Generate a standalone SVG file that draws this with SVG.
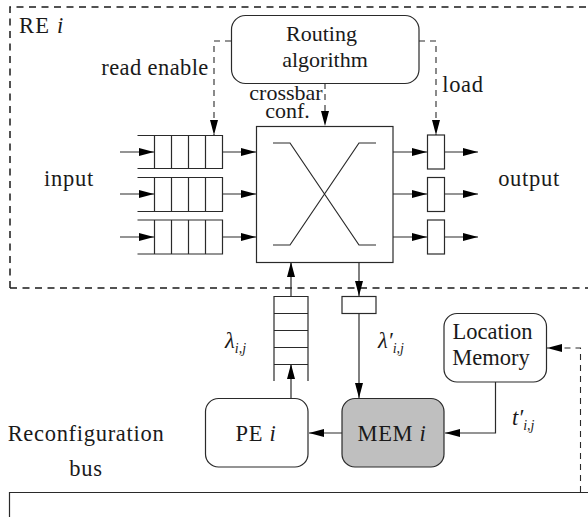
<svg xmlns="http://www.w3.org/2000/svg" width="588" height="517" viewBox="0 0 588 517">
<style>
.l{fill:none;stroke:#2a2a2a;stroke-width:1.2}
.b{fill:#fff;stroke:#2a2a2a;stroke-width:1.2}
.d{fill:none;stroke:#2a2a2a;stroke-width:1.1;stroke-dasharray:6 5}
.a{marker-end:url(#h)}
text{font-family:"Liberation Serif","Times New Roman",serif;font-size:22.500px;fill:#1a1a1a;text-anchor:middle}
.c{letter-spacing:.7px}
.t{font-size:22px}
.i{font-style:italic}
.s{font-size:14px;font-style:italic}
</style>
<defs>
<marker id="h" markerUnits="userSpaceOnUse" markerWidth="16" markerHeight="10" refX="15" refY="5" orient="auto"><path d="M0 1 L15 5 L0 9 Z" fill="#000"/></marker>
</defs>
<rect width="588" height="517" fill="#fff"/>
<path id="re-border" d="M10 288 V7 H588 M10 288 H588" fill="none" stroke="#1a1a1a" stroke-width="1.5" stroke-dasharray="7 5.5"/>
<text class="c" x="19" y="33" style="text-anchor:start;letter-spacing:1.2px">RE <tspan class="i">i</tspan></text>
<g id="connectors">
<path class="d a" d="M231 41 H214 V135"/>
<path class="d a" d="M419 41 H436 V135"/>
<path class="d a" d="M325 83 V126"/>
<path class="l a" d="M120 152 H154"/><path class="l a" d="M120 194 H154"/><path class="l a" d="M120 237 H154"/>
<path class="l a" d="M222 152 H256"/><path class="l a" d="M222 194 H256"/><path class="l a" d="M222 237 H256"/>
<path class="l a" d="M393 152 H427"/><path class="l a" d="M393 194 H427"/><path class="l a" d="M393 237 H427"/>
<path class="l a" d="M444 152 H478"/><path class="l a" d="M444 194 H478"/><path class="l a" d="M444 237 H478"/>
<path class="l a" d="M291 296 V262"/>
<path class="l a" d="M291 398 V364"/>
<path class="l a" d="M359 262 V296"/>
<path class="l a" d="M359 313 V398"/>
<path class="l a" d="M342 433 H309"/>
<path class="l a" d="M495.500 382 V433 H445"/>
<path class="d a" d="M580.500 492 V348 H547"/>
</g>
<g id="routing"><rect class="b" x="231.500" y="15.500" width="187.500" height="68" rx="14"/>
<text class="t" x="321.500" y="41">Routing</text><text class="t" x="325" y="67">algorithm</text></g>
<text x="155" y="75" style="letter-spacing:.4px">read enable</text>
<text class="c" x="463" y="92">load</text>
<text class="t" x="286" y="100">crossbar</text><text class="t" x="287.500" y="118">conf.</text>
<text class="c" x="69" y="186">input</text><text class="c" x="529" y="186">output</text>
<g id="queue-1"><path class="l" d="M137.500 135.500 H222.500 V168.500 H137.500 M154.500 135.500 V168.500 M171.500 135.500 V168.500 M188.500 135.500 V168.500 M205.500 135.500 V168.500"/></g>
<g id="queue-2"><path class="l" d="M137.500 177.500 H222.500 V211.500 H137.500 M154.500 177.500 V211.500 M171.500 177.500 V211.500 M188.500 177.500 V211.500 M205.500 177.500 V211.500"/></g>
<g id="queue-3"><path class="l" d="M137.500 220 H222.500 V254 H137.500 M154.500 220 V254 M171.500 220 V254 M188.500 220 V254 M205.500 220 V254"/></g>
<g id="crossbar"><rect class="l" x="256.500" y="126.500" width="136.500" height="136"/>
<path class="l" d="M273 143 H290 L359 245 H376 M376 143 H359 L290 245 H273"/></g>
<g id="out-1"><rect class="b" x="427.500" y="135" width="17" height="34"/></g>
<g id="out-2"><rect class="b" x="427.500" y="177.500" width="17" height="34"/></g>
<g id="out-3"><rect class="b" x="427.500" y="220" width="17" height="34"/></g>
<g id="pe-queue"><path class="l" d="M274 381 V296.500 H308 V381 M274 313.500 H308 M274 330.500 H308 M274 347.500 H308 M274 364.500 H308"/></g>
<g id="mem-register"><rect class="b" x="342" y="296.500" width="34" height="17"/></g>
<text class="i" x="225" y="348" style="text-anchor:start">λ<tspan class="s" dy="5">i,j</tspan></text>
<text class="i" x="378" y="348" style="text-anchor:start">λ′<tspan class="s" dy="5">i,j</tspan></text>
<text class="i" x="512" y="425" style="text-anchor:start">t′<tspan class="s" dy="5">i,j</tspan></text>
<g id="location-memory"><rect class="b" x="444" y="313.500" width="102.500" height="68.500" rx="13"/>
<text x="492.500" y="339">Location</text><text x="491" y="365">Memory</text></g>
<g id="pe"><rect class="l" x="205.500" y="398.500" width="102.500" height="68.500" rx="13"/>
<text class="c" x="256" y="441">PE <tspan class="i">i</tspan></text></g>
<g id="mem"><rect x="342" y="398.500" width="102" height="68.500" rx="13" fill="#bfbfbf" stroke="#2a2a2a" stroke-width="1.2"/>
<text class="c" x="392" y="441">MEM <tspan class="i">i</tspan></text></g>
<text class="c" x="86" y="441">Reconfiguration</text><text class="c" x="86" y="476">bus</text>
<g id="bus"><path class="l" d="M9.500 517 V492.500 H588"/></g>
</svg>
